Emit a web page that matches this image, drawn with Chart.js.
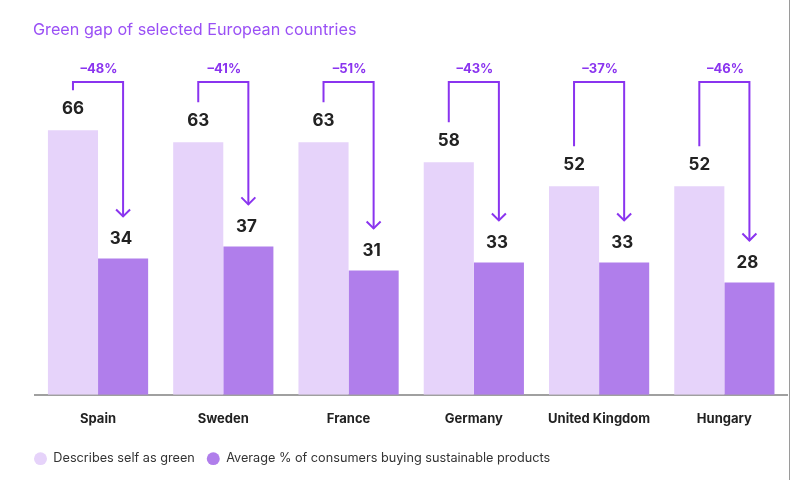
<!DOCTYPE html>
<html>
<head>
<meta charset="utf-8">
<script src="https://cdn.jsdelivr.net/npm/chart.js@4"></script>
<style>
  html, body { margin: 0; padding: 0; background: #fff; }
  #wrap { width: 790px; height: 480px; }
</style>
</head>
<body>
<div id="wrap"><canvas id="myChart" width="790" height="480"></canvas></div>
<script>
const countries = ['Spain', 'Sweden', 'France', 'Germany', 'United Kingdom', 'Hungary']
const selfGreen = [66, 63, 63, 58, 52, 52]
const buyingSustainable = [34, 37, 31, 33, 33, 28]
const gapLabels = ['–48%', '–41%', '–51%', '–43%', '–37%', '–46%']
const seriesNames = ['Describes self as green', 'Average % of consumers buying sustainable products']

const TITLE = 'Green gap of selected European countries'
const LIGHT = '#e6d3fa'
const DARK = '#b07eeb'
const ARROW = '#8a34ef'
const FONT = 'Inter, "Noto Sans", sans-serif'

// value labels, gap arrows, title
const annotations = {
    id: 'annotations',
    afterDatasetsDraw(chart) {
        const ctx = chart.ctx
        const yScale = chart.scales.y
        const light = chart.getDatasetMeta(0).data
        const dark = chart.getDatasetMeta(1).data
        ctx.save()

        // title
        ctx.font = '400 16.2px ' + FONT
        ctx.fillStyle = '#9a50f5'
        ctx.textAlign = 'left'
        ctx.textBaseline = 'middle'
        ctx.fillText(TITLE, 33, 30)

        // bar values
        ctx.font = '700 17px ' + FONT
        ctx.fillStyle = '#222'
        ctx.textAlign = 'center'
        light.forEach((bar, i) => ctx.fillText(selfGreen[i], bar.x, bar.y - 21))
        dark.forEach((bar, i) => ctx.fillText(buyingSustainable[i], bar.x - 2, bar.y - 20))

        // gap arrows
        const topY = yScale.getPixelForValue(78)
        ctx.strokeStyle = ARROW
        ctx.lineWidth = 2
        ctx.lineJoin = 'miter'
        light.forEach((bar, i) => {
            const x1 = bar.x
            const x2 = dark[i].x
            const startY = bar.y - 40
            const tipY = dark[i].y - 42
            ctx.beginPath()
            ctx.moveTo(x1, startY)
            ctx.lineTo(x1, topY)
            ctx.lineTo(x2, topY)
            ctx.lineTo(x2, tipY)
            ctx.stroke()
            ctx.beginPath()
            ctx.moveTo(x2 - 7, tipY - 7)
            ctx.lineTo(x2, tipY)
            ctx.lineTo(x2 + 7, tipY - 7)
            ctx.stroke()

            ctx.font = '700 13px ' + FONT
            ctx.fillStyle = ARROW
            ctx.fillText(gapLabels[i], (x1 + x2) / 2 + 1, topY - 13)
        })

        // frame edge on the right
        ctx.strokeStyle = '#9a9a9a'
        ctx.lineWidth = 1
        ctx.beginPath()
        ctx.moveTo(789.5, 0)
        ctx.lineTo(789.5, 480)
        ctx.stroke()
        ctx.restore()
    }
}

const ctx = document.getElementById('myChart')
new Chart(ctx, {
    type: 'bar',
    data: {
        labels: countries,
        datasets: [{
            label: seriesNames[0],
            data: selfGreen,
            backgroundColor: LIGHT,
            borderWidth: 0,
        }, {
            label: seriesNames[1],
            data: buyingSustainable,
            backgroundColor: DARK,
            borderWidth: 0,
        }]
    },
    options: {
        responsive: false,
        animation: false,
        layout: {
            padding: { top: 54, left: 22, right: 3, bottom: 5 }
        },
        datasets: {
            bar: { barPercentage: 1, categoryPercentage: 0.8 }
        },
        scales: {
            x: {
                grid: { display: false, drawTicks: false },
                border: { display: true, color: '#a0a0a0', width: 2 },
                ticks: {
                    padding: 17,
                    color: '#222',
                    font: { family: FONT, size: 13, weight: '700' }
                },
                afterFit: (scale) => { scale.height -= 4 }
            },
            y: {
                min: 0,
                max: 85,
                grid: { display: false, drawTicks: false },
                border: { display: false },
                ticks: { display: false },
                afterFit: (scale) => { scale.width = 13.4 }
            }
        },
        plugins: {
            tooltip: { enabled: false },
            legend: {
                position: 'bottom',
                align: 'start',
                labels: {
                    usePointStyle: true,
                    pointStyle: 'circle',
                    pointStyleWidth: 13,
                    boxHeight: 9,
                    padding: 12,
                    color: '#333',
                    font: { family: FONT, size: 12.7 }
                }
            }
        }
    },
    plugins: [annotations]
});
</script>
</body>
</html>
